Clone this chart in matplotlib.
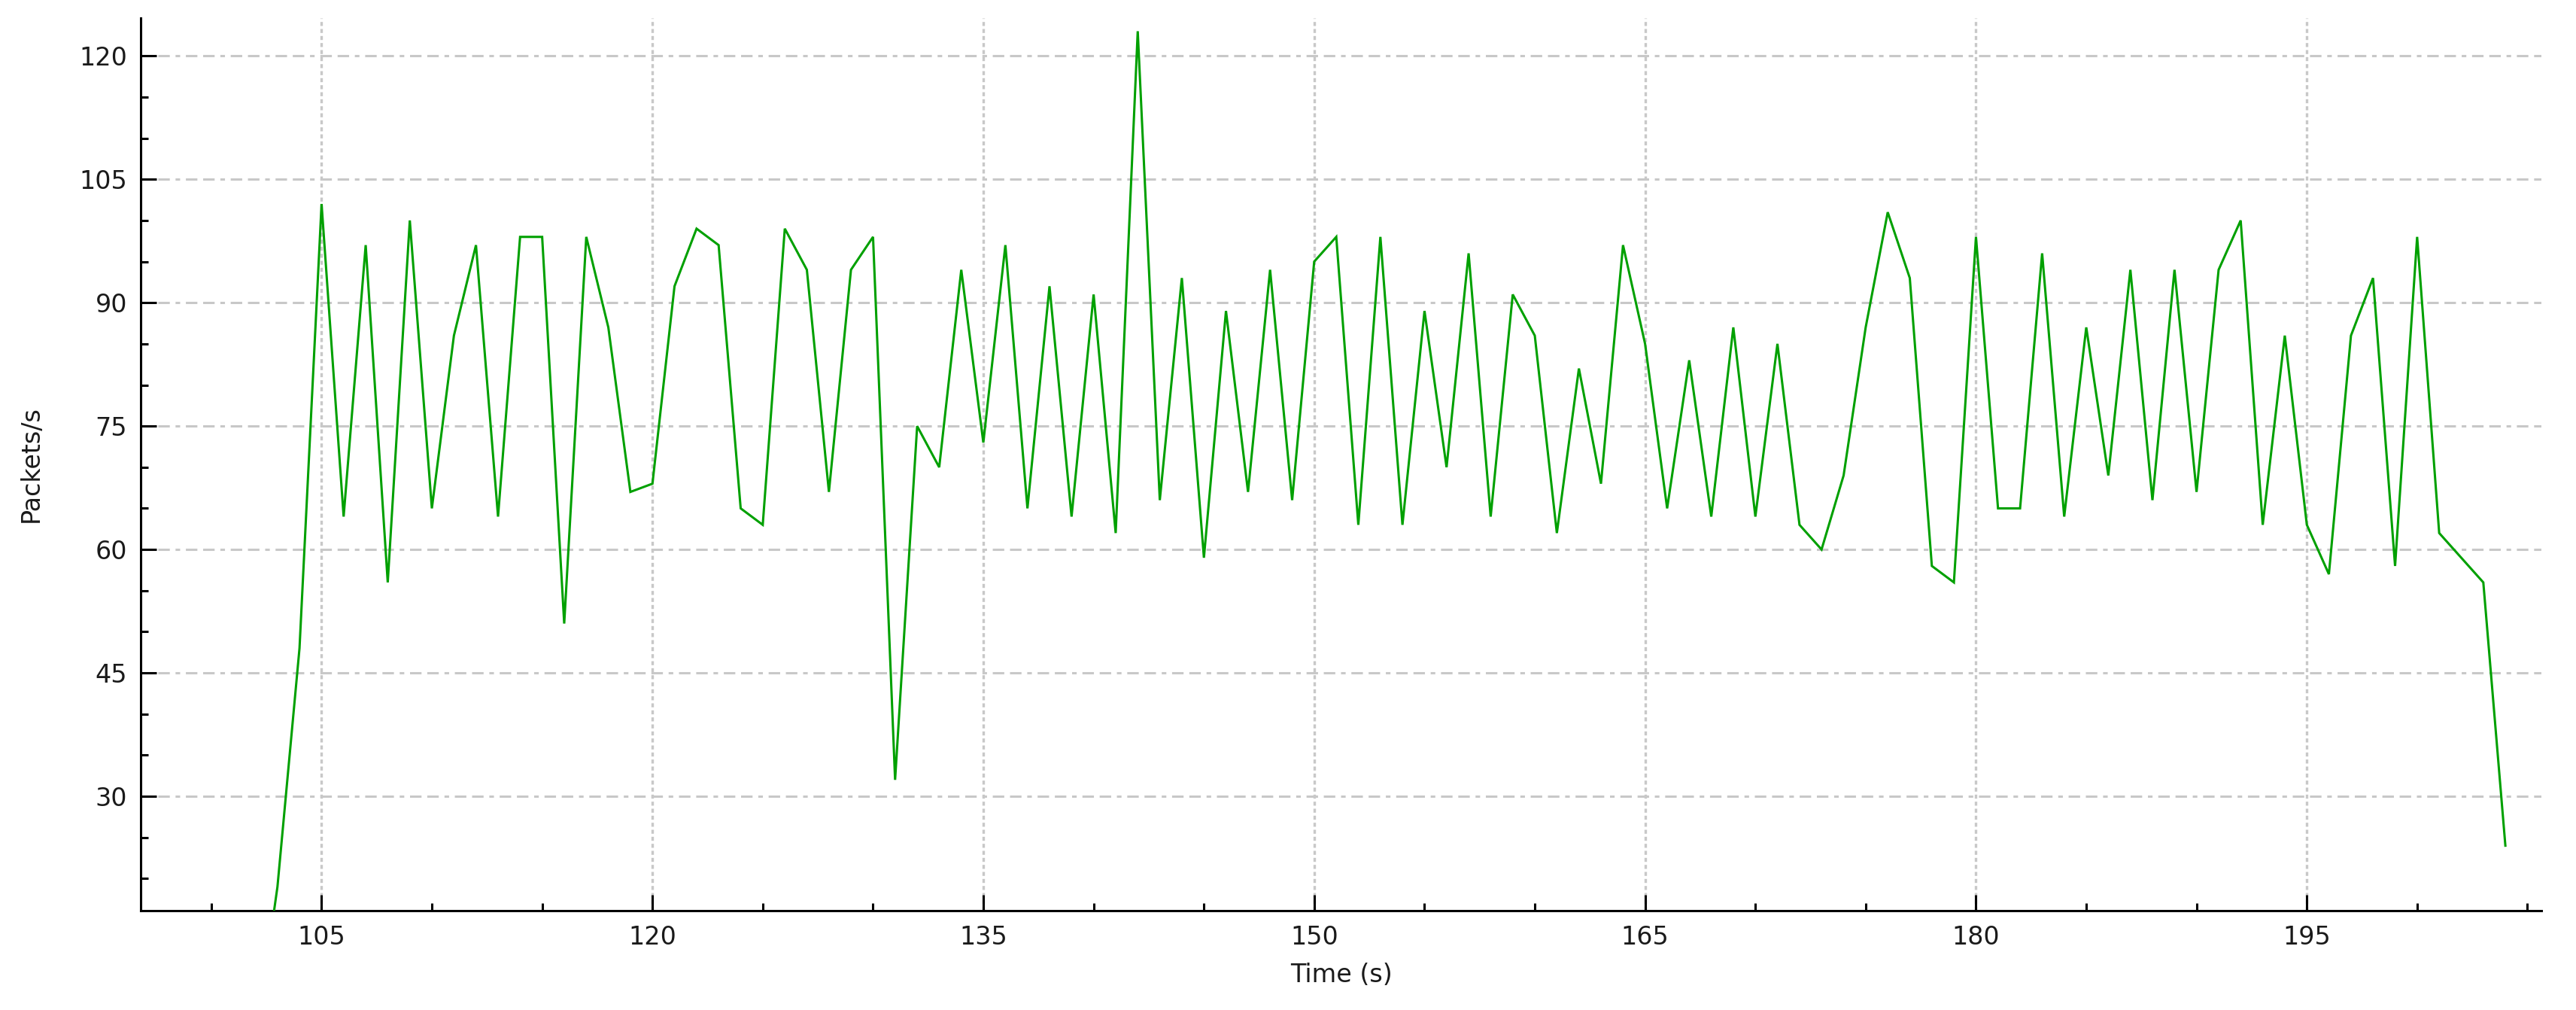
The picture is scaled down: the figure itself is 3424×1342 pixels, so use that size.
import matplotlib
matplotlib.use("Agg")
import matplotlib.pyplot as plt
from matplotlib.ticker import MultipleLocator

# ---- data (packets per second, one sample per second) ----
first_second = 102
packets = [0, 19, 48, 102, 64, 97, 56, 100, 65, 86,
           97, 64, 98, 98, 51, 98, 87, 67, 68, 92,
           99, 97, 65, 63, 99, 94, 67, 94, 98, 32,
           75, 70, 94, 73, 97, 65, 92, 64, 91, 62,
           123, 66, 93, 59, 89, 67, 94, 66, 95, 98,
           63, 98, 63, 89, 70, 96, 64, 91, 86, 62,
           82, 68, 97, 85, 65, 83, 64, 87, 64, 85,
           63, 60, 69, 87, 101, 93, 58, 56, 98, 65,
           65, 96, 64, 87, 69, 94, 66, 94, 67, 94,
           100, 63, 86, 63, 57, 86, 93, 58, 98, 62,
           59, 56, 24]
seconds = list(range(first_second, first_second + len(packets)))

x_label = "Time (s)"
y_label = "Packets/s"

W, H, DPI = 3424, 1342, 100
fig = plt.figure(figsize=(W / DPI, H / DPI), dpi=DPI)
ax = fig.add_axes([187 / W, 1 - 1210 / H, (3378.5 - 187) / W, (1210 - 24) / H])

ax.plot(seconds, packets, color="#00a000", linewidth=2.2, solid_joinstyle="miter", zorder=3)

ax.set_xlim(96.8, 205.65)
ax.set_ylim(16.1, 124.6)

ax.xaxis.set_major_locator(MultipleLocator(15))
ax.xaxis.set_minor_locator(MultipleLocator(5))
ax.yaxis.set_major_locator(MultipleLocator(15))
ax.yaxis.set_minor_locator(MultipleLocator(5))

for s in ("top", "right"):
    ax.spines[s].set_visible(False)
for s in ("left", "bottom"):
    ax.spines[s].set_linewidth(2.2)
    ax.spines[s].set_color("black")

ax.tick_params(axis="both", which="major", direction="in", length=15, width=2.2,
               labelsize=24, colors="black", labelcolor="#1a1a1a")
ax.tick_params(axis="both", which="minor", direction="in", length=7, width=2.2, colors="black")
ax.tick_params(axis="x", which="major", pad=14)
ax.tick_params(axis="y", which="major", pad=13)

ax.grid(axis="y", which="major", color="#c8c8c8", linewidth=2.2,
        linestyle=(0, (5, 2.5, 5, 2.5, 2, 2.5)), zorder=0)
ax.grid(axis="x", which="major", color="#c8c8c8", linewidth=2.4,
        linestyle=(0, (1.6, 1.2)), zorder=0)

ax.set_xlabel(x_label, fontsize=24, color="#1a1a1a", labelpad=12)
ax.set_ylabel(y_label, fontsize=24, color="#1a1a1a", labelpad=34)

fig.savefig("out.png", dpi=DPI, facecolor="white")
